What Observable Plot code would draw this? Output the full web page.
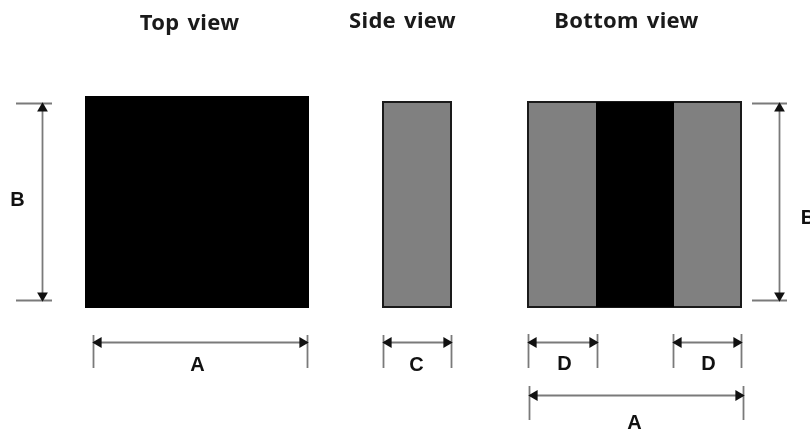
<!DOCTYPE html>
<html>
<head>
<meta charset="utf-8">
<script src="https://cdn.jsdelivr.net/npm/d3@7"></script>
<script src="https://cdn.jsdelivr.net/npm/@observablehq/plot@0.6"></script>
<style>
html,body{margin:0;padding:0;background:#fff;overflow:hidden}
svg{display:block;filter:blur(0.5px)}
.view-title text{letter-spacing:0.3px;word-spacing:2px}
</style>
</head>
<body>
<div id="chart"></div>
<script>
const blackBlocks = [
  {x1:85, x2:309, y1:96, y2:308},
  {x1:596, x2:674, y1:102, y2:307}
];
const grayBlocks = [
  {x1:383, x2:451, y1:102, y2:307},
  {x1:528, x2:741, y1:102, y2:307}
];
const titles = [
  {x:189, y:22, t:"Top view"},
  {x:402, y:20, t:"Side view"},
  {x:626, y:20, t:"Bottom view"}
];
const letters = [
  {x:17, y:199, t:"B"},
  {x:807.5, y:217, t:"B"},
  {x:197, y:364, t:"A"},
  {x:416, y:364, t:"C"},
  {x:564, y:363, t:"D"},
  {x:708, y:363, t:"D"},
  {x:634, y:422, t:"A"}
];
const hDims = [
  {x1:93, x2:307, y:342},
  {x1:383, x2:451, y:342},
  {x1:528, x2:597, y:342},
  {x1:673, x2:741, y:342},
  {x1:529, x2:743, y:395}
];
const vDims = [
  {x:42, y1:103, y2:300},
  {x:779, y1:103, y2:300}
];
const hExt = [
  {x1:16, x2:52, y:103}, {x1:16, x2:52, y:300},
  {x1:752, x2:787, y:103}, {x1:752, x2:787, y:300}
];
const vExt = [
  {x:93, y1:335, y2:368}, {x:307, y1:335, y2:368},
  {x:383, y1:335, y2:368}, {x:451, y1:335, y2:368},
  {x:528, y1:334, y2:368}, {x:597, y1:334, y2:368},
  {x:673, y1:334, y2:368}, {x:741, y1:334, y2:368},
  {x:529, y1:386, y2:420}, {x:743, y1:386, y2:420}
];
const tips = [
  ...hDims.flatMap(d => [
    {x:d.x1+5, y:d.y, r:-90},
    {x:d.x2-5, y:d.y, r:90}
  ]),
  ...vDims.flatMap(d => [
    {x:d.x, y:d.y1+5, r:0},
    {x:d.x, y:d.y2-5, r:180}
  ])
];
const lineColor = "#7a7a7a";
const font = "'Liberation Sans', sans-serif";

const plot = Plot.plot({
  width:810, height:434,
  margin:0,
  x:{domain:[0,810], range:[0,810], axis:null},
  y:{domain:[0,434], range:[0,434], axis:null},
  marks:[
    Plot.rect(grayBlocks,{x1:"x1",x2:"x2",y1:"y1",y2:"y2",fill:"#808080",stroke:"#1a1a1a",strokeWidth:2}),
    Plot.rect(blackBlocks,{x1:"x1",x2:"x2",y1:"y1",y2:"y2",fill:"#000"}),
    Plot.ruleY(hDims,{x1:"x1",x2:"x2",y:"y",stroke:lineColor,strokeWidth:1.8}),
    Plot.ruleX(vDims,{x:"x",y1:"y1",y2:"y2",stroke:lineColor,strokeWidth:1.8}),
    Plot.ruleY(hExt,{x1:"x1",x2:"x2",y:"y",stroke:lineColor,strokeWidth:1.8}),
    Plot.ruleX(vExt,{x:"x",y1:"y1",y2:"y2",stroke:lineColor,strokeWidth:1.8}),
    Plot.dot(tips,{x:"x",y:"y",rotate:"r",symbol:"triangle",r:4,fill:"#111",stroke:"none"}),
    Plot.text(titles,{x:"x",y:"y",text:"t",fontSize:22,fontWeight:700,fill:"#1a1a1a",fontFamily:"'Noto Sans', sans-serif",textAnchor:"middle",className:"view-title"}),
    Plot.text(letters,{x:"x",y:"y",text:"t",fontSize:20,fontWeight:700,fill:"#111",fontFamily:font,textAnchor:"middle"})
  ]
});
document.getElementById("chart").append(plot);
</script>
</body>
</html>
